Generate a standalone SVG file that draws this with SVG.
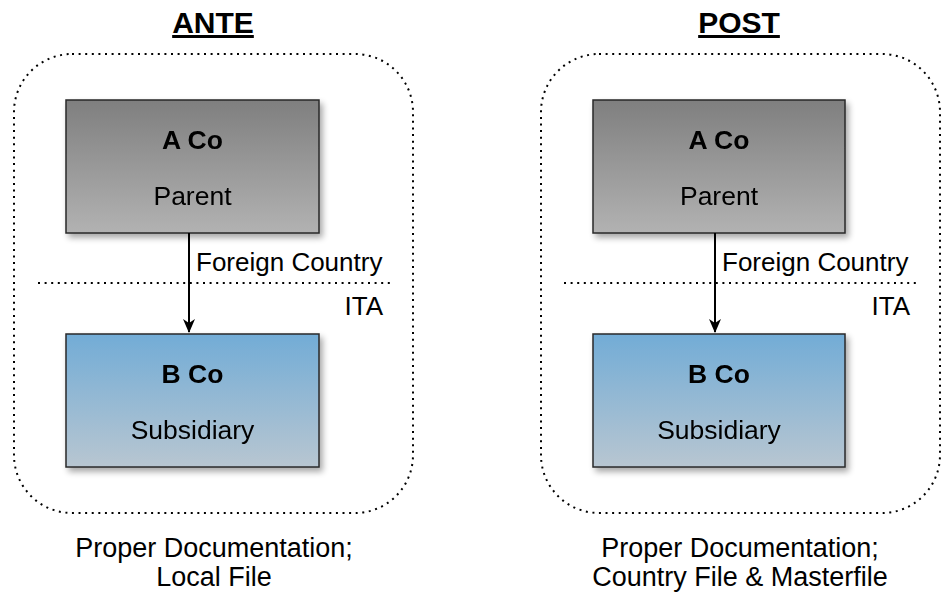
<svg xmlns="http://www.w3.org/2000/svg" width="946" height="592" viewBox="0 0 946 592">
  <defs>
    <linearGradient id="gradParent" x1="0" y1="0" x2="0" y2="1">
      <stop offset="0" stop-color="#7f7f7f"/>
      <stop offset="1" stop-color="#b2b2b2"/>
    </linearGradient>
    <linearGradient id="gradSub" x1="0" y1="0" x2="0" y2="1">
      <stop offset="0" stop-color="#72acd6"/>
      <stop offset="1" stop-color="#b8c6d1"/>
    </linearGradient>
    <filter id="shadow" x="-10%" y="-10%" width="130%" height="140%">
      <feGaussianBlur in="SourceAlpha" stdDeviation="3"/>
      <feOffset dx="3" dy="4" result="b"/>
      <feComponentTransfer><feFuncA type="linear" slope="0.35"/></feComponentTransfer>
      <feMerge><feMergeNode/><feMergeNode in="SourceGraphic"/></feMerge>
    </filter>
    <marker id="arrow" viewBox="0 0 14 12" refX="13" refY="6" markerWidth="14" markerHeight="12" markerUnits="userSpaceOnUse" orient="auto">
      <path d="M0,0 L14,6 L0,12 L4,6 Z" fill="#000"/>
    </marker>
  </defs>
  <style>
    text { font-family: "Liberation Sans", Arial, sans-serif; fill: #000; }
    .title { font-size: 30px; font-weight: bold; text-decoration: underline; }
    .name { font-size: 26.5px; font-weight: bold; }
    .role { font-size: 26.5px; }
    .lbl { font-size: 26px; }
    .note { font-size: 27px; }
    .frame { fill: none; stroke: #000; stroke-width: 2; stroke-dasharray: 2 4.6; }
    .box { stroke: #2a2a2a; stroke-width: 1.5; }
    .edge { stroke: #000; stroke-width: 2; fill: none; }
  </style>

  <rect width="946" height="592" fill="#fff"/>

  <!-- left scenario: before -->
  <g id="ante">
    <text class="title" x="213" y="33" text-anchor="middle">ANTE</text>
    <rect class="frame" x="14" y="54" width="399" height="459" rx="58" ry="58"/>
    <line class="frame" x1="38" y1="283" x2="390" y2="283"/>
    <text class="lbl" x="196" y="271">Foreign Country</text>
    <text class="lbl" x="383" y="315" text-anchor="end">ITA</text>
    <text class="note" x="214" y="557" text-anchor="middle">Proper Documentation;</text>
    <text class="note" x="214" y="586" text-anchor="middle">Local File</text>
  </g>
  <g id="ante-acoparent" filter="url(#shadow)">
    <rect class="box" x="66" y="100" width="253" height="133" fill="url(#gradParent)"/>
    <text class="name" x="192.5" y="149" text-anchor="middle">A Co</text>
    <text class="role" x="192.5" y="205" text-anchor="middle">Parent</text>
  </g>
  <g id="ante-bcosub" filter="url(#shadow)">
    <rect class="box" x="66" y="334" width="253" height="133" fill="url(#gradSub)"/>
    <text class="name" x="192.5" y="383" text-anchor="middle">B Co</text>
    <text class="role" x="192.5" y="439" text-anchor="middle">Subsidiary</text>
  </g>

  <!-- right scenario: after -->
  <g id="post">
    <text class="title" x="739" y="33" text-anchor="middle">POST</text>
    <rect class="frame" x="541" y="54" width="399" height="459" rx="58" ry="58"/>
    <line class="frame" x1="564" y1="283" x2="917" y2="283"/>
    <text class="lbl" x="722" y="271">Foreign Country</text>
    <text class="lbl" x="910" y="315" text-anchor="end">ITA</text>
    <text class="note" x="740" y="557" text-anchor="middle">Proper Documentation;</text>
    <text class="note" x="740" y="586" text-anchor="middle">Country File &amp; Masterfile</text>
  </g>
  <g id="post-acoparent" filter="url(#shadow)">
    <rect class="box" x="593" y="100" width="252" height="133" fill="url(#gradParent)"/>
    <text class="name" x="719" y="149" text-anchor="middle">A Co</text>
    <text class="role" x="719" y="205" text-anchor="middle">Parent</text>
  </g>
  <g id="post-bcosub" filter="url(#shadow)">
    <rect class="box" x="593" y="334" width="252" height="133" fill="url(#gradSub)"/>
    <text class="name" x="719" y="383" text-anchor="middle">B Co</text>
    <text class="role" x="719" y="439" text-anchor="middle">Subsidiary</text>
  </g>

  <!-- ownership connectors -->
  <g id="connectors">
    <line class="edge" x1="189" y1="233" x2="189" y2="332" marker-end="url(#arrow)"/>
    <line class="edge" x1="715" y1="233" x2="715" y2="332" marker-end="url(#arrow)"/>
  </g>
</svg>
